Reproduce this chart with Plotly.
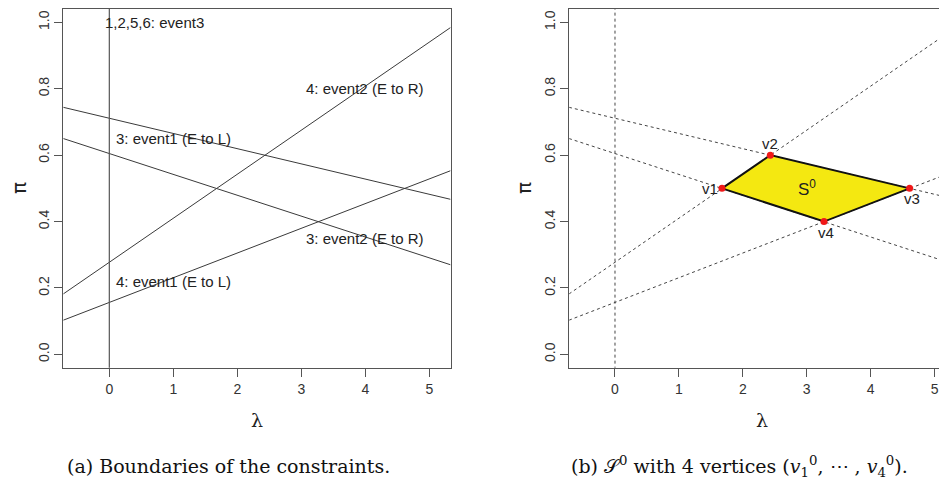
import plotly.graph_objects as go

# ---- data ----
line_x = [-0.72, 5.33]                 # lambda at left/right ends of the boundary lines
line_a = [0.744, 0.467]                # decreasing, upper
line_b = [0.650, 0.270]                # decreasing, lower
line_c = [0.182, 0.984]                # increasing, steep
line_d = [0.103, 0.553]                # increasing, shallow
vline_x = [0, 0]
vline_y = [-0.1, 1.1]

vert_names = ["v1", "v2", "v3", "v4"]
vert_x = [1.674, 2.43, 4.61, 3.27]
vert_y = [0.50, 0.60, 0.50, 0.40]

labels_a = ["1,2,5,6: event3", "4: event2 (E to R)", "3: event1 (E to L)",
            "3: event2 (E to R)", "4: event1 (E to L)"]
labels_a_x = [0.70, 4.0, 1.0, 4.0, 1.0]
labels_a_y = [1.0, 0.80, 0.65, 0.35, 0.22]

xticks = [0, 1, 2, 3, 4, 5]
yticks = [0.0, 0.2, 0.4, 0.6, 0.8, 1.0]
ytick_text = ["0.0", "0.2", "0.4", "0.6", "0.8", "1.0"]

# page is 947x483 but the html body has an 8px margin
OFF = 8
W, H = 947 - OFF, 483 - OFF


def px(x):
    return (x - OFF) / W


def py(y):
    return 1 - (y - OFF) / H


LINE_COL = "#3a3a3a"
AX_COL = "#555555"
TXT_COL = "#222222"

fig = go.Figure()

boundaries = [line_a, line_b, line_c, line_d]
for ys in boundaries:
    fig.add_trace(go.Scatter(x=line_x, y=ys, mode="lines", xaxis="x", yaxis="y",
                             line=dict(color=LINE_COL, width=1), hoverinfo="skip"))
fig.add_trace(go.Scatter(x=vline_x, y=vline_y, mode="lines", xaxis="x", yaxis="y",
                         line=dict(color="#555555", width=1.2), hoverinfo="skip"))

# right panel
for ys in boundaries:
    fig.add_trace(go.Scatter(x=line_x, y=ys, mode="lines", xaxis="x2", yaxis="y2",
                             line=dict(color="#444444", width=1, dash="3px,3px"), hoverinfo="skip"))
fig.add_trace(go.Scatter(x=vline_x, y=vline_y, mode="lines", xaxis="x2", yaxis="y2",
                         line=dict(color="#444444", width=1, dash="3px,3px"), hoverinfo="skip"))

fig.add_trace(go.Scatter(x=vert_x + [vert_x[0]], y=vert_y + [vert_y[0]], mode="lines",
                         xaxis="x2", yaxis="y2", fill="toself", fillcolor="#F4E811",
                         line=dict(color="#111111", width=2), hoverinfo="skip"))
fig.add_trace(go.Scatter(x=vert_x, y=vert_y, mode="markers", xaxis="x2", yaxis="y2",
                         marker=dict(color="#F01818", size=7), hoverinfo="skip"))

ann = []
for t, x, y in zip(labels_a, labels_a_x, labels_a_y):
    ann.append(dict(text=t, x=x, y=y, xref="x", yref="y", showarrow=False,
                    xanchor="center", yanchor="middle",
                    font=dict(family="Liberation Sans", size=15, color=TXT_COL)))

# vertex labels
vpos = {"v1": dict(xanchor="right", yanchor="middle", xshift=-2, yshift=0),
        "v2": dict(xanchor="center", yanchor="bottom", xshift=0, yshift=1),
        "v3": dict(xanchor="center", yanchor="top", xshift=2, yshift=0),
        "v4": dict(xanchor="center", yanchor="top", xshift=2, yshift=0)}
for n, x, y in zip(vert_names, vert_x, vert_y):
    ann.append(dict(text=n, x=x, y=y, xref="x2", yref="y2", showarrow=False,
                    font=dict(family="Liberation Sans", size=15, color=TXT_COL), **vpos[n]))
ann.append(dict(text="S<sup>0</sup>", x=3.0, y=0.5, xref="x2", yref="y2", showarrow=False,
                xanchor="center", yanchor="middle",
                font=dict(family="Liberation Sans", size=17, color=TXT_COL)))

# axis titles
for xc in [257, 762]:
    ann.append(dict(text="λ", x=px(xc), y=py(420), xref="paper", yref="paper",
                    xanchor="center", yanchor="middle",
                    showarrow=False, font=dict(family="DejaVu Serif", size=19, color=TXT_COL)))
for xc in [19, 524]:
    ann.append(dict(text="π", x=px(xc), y=py(188), xref="paper", yref="paper",
                    xanchor="center", yanchor="middle",
                    showarrow=False, textangle=-90,
                    font=dict(family="DejaVu Sans", size=20, color=TXT_COL)))

# captions
ann.append(dict(text="(a) Boundaries of the constraints.", x=px(228), y=py(466),
                xref="paper", yref="paper", showarrow=False,
                xanchor="center", yanchor="middle",
                font=dict(family="DejaVu Serif", size=19, color="#111111")))
ann.append(dict(text="(b) 𝒮<sup>0</sup> with 4 vertices (<i>v</i><sub>1</sub><sup>0</sup>, ⋯ , <i>v</i><sub>4</sub><sup>0</sup>).",
                x=px(739), y=py(466),
                xref="paper", yref="paper", showarrow=False,
                xanchor="center", yanchor="middle",
                font=dict(family="DejaVu Serif", size=19, color="#111111")))

ydom = [py(367.7), py(9)]
common_x = dict(tickmode="array", tickvals=xticks, ticks="outside", ticklen=8,
                tickcolor=AX_COL, tickwidth=1, showline=True, linecolor=AX_COL, linewidth=1.3,
                mirror=True, showgrid=False, zeroline=False, ticklabeloverflow="allow",
                tickfont=dict(family="Liberation Sans", size=14, color="#333333"))
common_y = dict(tickmode="array", tickvals=yticks, ticktext=ytick_text, ticks="outside",
                ticklen=8, tickcolor=AX_COL, tickwidth=1, showline=True, linecolor=AX_COL,
                linewidth=1.3, showgrid=False, zeroline=False, tickangle=-90,
                range=[-0.04, 1.04],
                tickfont=dict(family="Liberation Sans", size=14, color="#333333"))

fig.update_layout(
    width=W, height=H,
    margin=dict(l=0, r=0, t=0, b=0),
    paper_bgcolor="white", plot_bgcolor="white",
    showlegend=False,
    xaxis=dict(domain=[px(63.3), px(450.7)], range=[-0.719, 5.334], anchor="y", **common_x),
    yaxis=dict(domain=ydom, anchor="x", mirror=True, **common_y),
    xaxis2=dict(domain=[px(569.3), 1.0], range=[-0.715, 5.195], anchor="y2", **common_x),
    yaxis2=dict(domain=ydom, anchor="x2", mirror=False, **common_y),
    annotations=ann,
)

fig.write_html("out.html")
